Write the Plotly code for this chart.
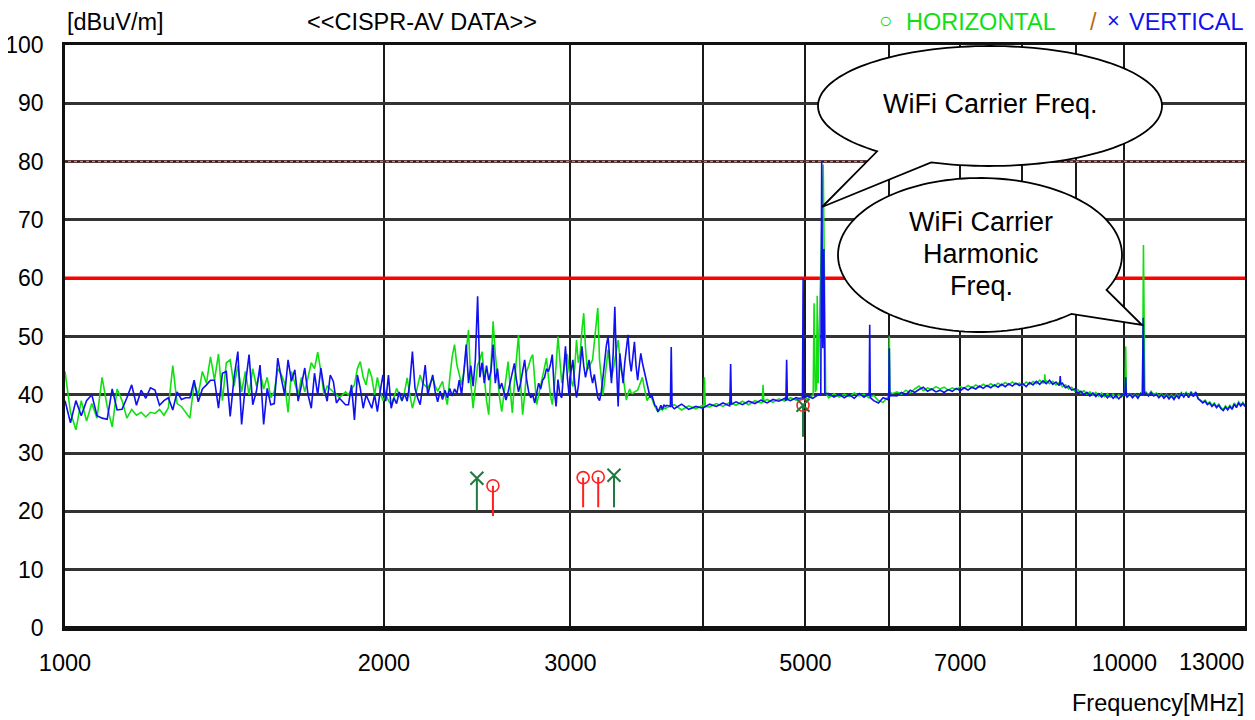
import numpy as np
import plotly.graph_objects as go

# ---------------- data ----------------
# Low band sweep: 1000 MHz upward, 12 MHz step
LO_START_MHZ = 1000
LO_STEP_MHZ = 12
H_LO = [
    44, 37, 34, 39, 35.5, 38.5, 36, 43, 38, 34.5,
    41, 39, 36, 37.5, 36.5, 37, 36.2, 37, 36.8, 37.5,
    36.5, 37.8, 45, 38.5, 38, 37, 36, 42, 40, 44,
    42, 46.5, 42.5, 47, 39, 45.5, 46, 41.5, 45, 40.5,
    44, 40, 44.5, 41.5, 44, 41, 43, 39.5, 40.5, 44.5,
    43.5, 42, 37, 44, 42, 40, 43, 40.5, 43, 45.5,
    44.5, 47.3, 44, 40, 41.5, 41, 40.5, 40, 39.5, 40,
    40.5, 40, 41, 41.7, 44.5, 45.7, 43, 41.7, 44.5, 43,
    40, 43, 40.5, 39, 40, 39, 38.3, 39.5, 41.1, 40,
    38.9, 40.5, 42.9, 40, 37.7, 39.5, 41.5, 43.4, 42, 41.5,
    41.1, 42, 42.9, 41.5, 40.6, 41.5, 42.3, 40, 38.3, 43,
    46.5, 48.6, 45.1, 43.5, 41.7, 44, 48, 51.1, 42, 37.7,
    41.5, 45.1, 46, 47.4, 43, 39, 36.6, 44, 52.6, 47,
    42.9, 39.5, 37.1, 40, 43.5, 45.7, 41, 36.9, 42, 47,
    50.3, 42, 36.6, 40, 44, 45, 46.2, 46.9, 42, 38.3,
    40, 41.5, 42.9, 44.5, 46.3, 43, 40, 38.3, 41, 45,
    50, 46, 42, 44, 46, 47, 44, 42.5, 41.4, 44.5,
    49.4, 45.5, 47, 51, 54, 48, 44.3, 44.8, 45.5, 46,
    49, 52.5, 54.9, 46, 43.1, 40, 42.5, 45, 47.7, 45,
    43, 44.2, 46, 48, 49.4, 46.5, 44, 43.1, 41, 39.1,
    40.2, 41, 40.3, 40.2, 40.5, 40.7, 40.8, 41.5, 42.3, 43,
    41.5, 40, 39, 39.5, 39.8, 39.4, 38.6, 38, 37.6, 37.1,
    37.3, 37.6, 37.4, 37.8, 37.6,
]
V_LO = [
    39, 35.2, 39, 36.4, 39, 40, 36.4, 36, 35.8, 41,
    37.4, 37.5, 39.5, 41.7, 38.2, 40.8, 39.4, 41.2, 40.8, 38.2,
    39, 39.5, 37.4, 40.5, 39.2, 39.5, 39.5, 42.5, 38.8, 41,
    41.7, 42.5, 42.5, 37.7, 43.7, 44, 36.3, 42.9, 47.4, 34.9,
    41.7, 46.9, 38.3, 40.6, 45.1, 34.9, 41.1, 38.3, 38.5, 46.3,
    42.9, 40, 46, 42.3, 44.3, 38.9, 41.7, 44.6, 40, 37.7,
    43.7, 40, 44.6, 41.1, 38.9, 43.4, 42.3, 38.6, 39.4, 38.9,
    38.3, 38.3, 41.7, 35.7, 43.4, 41.1, 37.7, 40, 38.9, 37.7,
    40, 37.1, 40.6, 43.4, 38.9, 43.4, 37.7, 39.5, 38.5, 40.5,
    39, 40.2, 38.9, 42, 47.4, 41.1, 39.5, 38.3, 41.5, 45.1,
    40, 41.5, 43.4, 40.5, 38.8, 40.6, 39.2, 40.8, 39.5, 41.1,
    39.8, 41, 40.2, 42.5, 40, 44, 48.6, 42, 45, 41.5,
    46, 56.9, 43, 45.5, 42, 45, 42.5, 44, 48.6, 42,
    44.5, 41, 42, 40.5, 39.1, 40.5, 42, 43.5, 45.4, 42.5,
    40.5, 42, 44, 46, 42.5, 40.5, 39.5, 40, 38.6, 40.5,
    42, 41, 42.5, 43, 44.5, 44, 45.1, 46.9, 41, 38,
    42.6, 40, 39.5, 44, 48.3, 43, 39.8, 44, 46, 42,
    39.5, 41.5, 45, 48.3, 45, 43, 44.5, 46, 43.5, 42,
    43.5, 41.5, 39.5, 39, 40.5, 43, 46, 48.5, 50, 46,
    42, 47, 55.1, 45, 38, 47.1, 44, 42, 45.5, 48.5,
    50.3, 46, 44, 46.5, 49.1, 45, 42.5, 45, 47.1, 45.5,
    44.3, 43, 41.5, 40.5, 39.5, 40, 38.8, 38.2, 38, 37.1,
    37.6, 38.2, 37.5, 38.3, 38,
]

# High band sweep: 3700 MHz upward, 60 MHz step
HI_START_MHZ = 3700
HI_STEP_MHZ = 60
H_HI = [
    37.8, 38.3, 37.4, 38.1, 37.6, 38.2, 37.9, 38.5, 38.0, 38.7,
    38.2, 38.9, 38.3, 39.0, 38.6, 39.2, 38.7, 39.3, 38.9, 39.5,
    39.1, 39.6, 39.3, 39.9, 39.4, 40.0, 39.5, 40.2, 39.6, 40.1,
    39.7, 40.3, 39.8, 40.1, 39.5, 39.9, 39.0, 38.7, 39.6, 40.2,
    40.5, 40.1, 40.8, 40.3, 41.0, 41.5, 40.7, 41.2, 40.9, 41.4,
    41.0, 41.3, 40.8, 41.2, 40.9, 41.4, 41.1, 41.6, 41.2, 41.7,
    41.3, 41.8, 41.4, 41.9, 41.5, 42.0, 41.6, 42.1, 41.7, 42.2,
    41.8, 42.0, 41.6, 42.2, 41.8, 42.3, 41.9, 42.5, 42.0, 42.4,
    41.9, 42.3, 41.7, 42.1, 41.4, 41.7, 41.0, 41.3, 40.6, 40.9,
    40.3, 40.7, 40.1, 40.5, 39.9, 40.4, 39.8, 40.3, 39.7, 40.2,
    39.6, 40.1, 39.5, 40.0, 39.6, 40.3, 39.8, 40.2, 39.7, 40.1,
    39.6, 40.3, 39.9, 40.5, 40.0, 40.6, 40.0, 40.3, 39.8, 40.2,
    39.6, 40.1, 39.5, 40.0, 39.4, 40.1, 39.6, 40.4, 39.8, 40.5,
    39.7, 40.6, 39.9, 40.3, 39.4, 39.1, 38.8, 39.1, 38.5, 38.8,
    38.2, 38.6, 38.0, 38.4, 37.8, 37.5, 38.1, 37.6, 38.2, 37.7,
    38.6, 38.0, 38.8, 38.3, 38.7, 38.2,
]
V_HI = [
    38.2, 37.6, 38.4, 37.5, 38.0, 37.7, 38.4, 38.0, 38.6, 38.1,
    38.8, 38.3, 38.9, 38.5, 39.1, 38.6, 39.2, 38.9, 39.4, 39.0,
    39.5, 39.2, 39.8, 39.4, 40.0, 39.7, 40.2, 39.6, 40.1, 39.5,
    40.0, 39.4, 40.2, 39.6, 40.3, 39.0, 38.6, 39.5, 39.2, 39.9,
    39.8, 40.4, 40.0, 40.8, 40.4, 40.9, 41.3, 40.6, 41.0, 40.5,
    40.8, 40.4, 40.9, 40.6, 41.1, 40.7, 41.2, 40.8, 41.3, 41.0,
    41.5, 41.1, 41.6, 41.2, 41.7, 41.3, 41.8, 41.4, 41.9, 41.5,
    42.0, 41.6, 41.9, 41.4, 42.1, 41.7, 42.3, 41.8, 42.4, 41.9,
    42.5, 41.8, 42.2, 41.6, 42.0, 41.2, 41.5, 40.8, 41.0, 40.3,
    40.6, 40.0, 40.4, 39.8, 40.3, 39.7, 40.2, 39.6, 40.1, 39.5,
    40.0, 39.4, 39.9, 39.3, 39.8, 40.2, 39.6, 40.1, 39.5, 40.0,
    39.4, 40.2, 39.6, 40.3, 39.8, 40.4, 39.8, 40.1, 39.5, 40.0,
    39.4, 39.9, 39.3, 39.8, 39.2, 39.9, 39.4, 40.2, 39.6, 40.3,
    39.5, 40.4, 39.7, 40.5, 39.3, 39.0, 38.6, 38.9, 38.3, 38.6,
    38.0, 38.4, 37.8, 38.2, 37.6, 37.3, 37.9, 37.4, 38.0, 37.5,
    38.4, 37.8, 38.6, 38.1, 38.5, 38.0,
]

# Narrow spurious peaks (frequency groups and their levels)
H_SPIKE_MHZ = [
    [4008, 4015, 4022],
    [4552, 4560, 4568],
    [5085, 5095, 5108, 5122, 5130, 5140, 5197, 5225],
    [5993, 6000, 6007],
    [8405, 8414, 8424],
    [10015, 10030, 10045],
    [10405, 10425, 10440, 10455],
]
H_SPIKE_DB = [
    [37.8, 43.0, 38.0],
    [38.7, 41.7, 38.9],
    [39.8, 55.7, 40.5, 41.0, 57.0, 42.0, 79.5, 40.3],
    [39.8, 50.0, 40.5],
    [42.1, 43.5, 42.0],
    [40.0, 48.3, 39.9],
    [40.0, 65.7, 57.0, 40.3],
]
V_SPIKE_MHZ = [
    [3728, 3735, 3742],
    [4243, 4250, 4257],
    [4792, 4800, 4808],
    [4968, 4975, 4982],
    [5170, 5180, 5192, 5205, 5215],
    [5743, 5750, 5757],
    [5993, 6000, 6007],
    [8690, 8700, 8710],
    [10015, 10030, 10045],
    [10400, 10420, 10440],
]
V_SPIKE_DB = [
    [38.0, 48.2, 38.0],
    [38.6, 45.3, 38.4],
    [39.0, 46.0, 39.2],
    [39.3, 60.0, 39.4],
    [40.0, 80.0, 48.0, 65.0, 40.2],
    [39.8, 52.0, 39.5],
    [39.5, 48.0, 39.8],
    [41.9, 43.2, 41.8],
    [40.0, 43.0, 39.8],
    [40.0, 53.2, 40.2],
]

LIMIT_DB = 60
PEAK_LIMIT_DB = 80

# Final measurement markers
O_MHZ = [2535, 3084, 3187, 4974]
O_DB = [24.4, 25.8, 25.9, 38.2]
O_STEM_DB = [19.2, 20.7, 20.7, 38.2]
X_MHZ = [2448, 3298, 4974]
X_DB = [25.7, 26.2, 38.2]
X_STEM_DB = [20.2, 20.7, 32.8]

X_TICKS = [1000, 2000, 3000, 5000, 7000, 10000]
X_LAST_TICK = 13000
X_MINOR = [4000, 6000, 8000, 9000]
Y_TICKS = list(range(0, 101, 10))
F_MIN, F_MAX = 1000, 13000

# ---------------- build series ----------------
def build(lo, hi, sp_f, sp_db):
    f = list(LO_START_MHZ + LO_STEP_MHZ * np.arange(len(lo))) + \
        list(HI_START_MHZ + HI_STEP_MHZ * np.arange(len(hi)))
    v = list(lo) + list(hi)
    pts = [(float(a), float(b)) for a, b in zip(f, v)
           if not any(min(g) <= a <= max(g) for g in sp_f)]
    for g, d in zip(sp_f, sp_db):
        pts += list(zip(g, d))
    pts.sort(key=lambda p: p[0])
    return [p[0] for p in pts], [p[1] for p in pts]

hf, hv = build(H_LO, H_HI, H_SPIKE_MHZ, H_SPIKE_DB)
vf, vv = build(V_LO, V_HI, V_SPIKE_MHZ, V_SPIKE_DB)

def stems(fs, top, bottom):
    xs, ys = [], []
    for a, t, b in zip(fs, top, bottom):
        xs += [a, a, None]
        ys += [t, b, None]
    return xs, ys

FONT = "Liberation Sans, Arial, sans-serif"
FS = 23.5

fig = go.Figure()

# limit lines
fig.add_trace(go.Scatter(x=[F_MIN, F_MAX], y=[LIMIT_DB, LIMIT_DB], mode="lines",
                         line=dict(color="#ff0000", width=3.5), hoverinfo="skip"))
fig.add_trace(go.Scatter(x=[F_MIN, F_MAX], y=[PEAK_LIMIT_DB, PEAK_LIMIT_DB], mode="lines",
                         line=dict(color="#ff7070", width=1.5), hoverinfo="skip"))
fig.add_trace(go.Scatter(x=[F_MIN, F_MAX], y=[PEAK_LIMIT_DB, PEAK_LIMIT_DB], mode="lines",
                         line=dict(color="#222222", width=1.5, dash="dot"), hoverinfo="skip"))

# spectra
fig.add_trace(go.Scatter(x=hf, y=hv, mode="lines", name="HORIZONTAL",
                         line=dict(color="#10e010", width=1.6)))
fig.add_trace(go.Scatter(x=vf, y=vv, mode="lines", name="VERTICAL",
                         line=dict(color="#1010f0", width=1.6)))

# stems and markers
sx, sy = stems(X_MHZ, X_DB, X_STEM_DB)
fig.add_trace(go.Scatter(x=sx, y=sy, mode="lines", line=dict(color="#1e7a3e", width=2),
                         hoverinfo="skip"))
sx, sy = stems(O_MHZ, O_DB, O_STEM_DB)
fig.add_trace(go.Scatter(x=sx, y=sy, mode="lines", line=dict(color="#ff2020", width=2),
                         hoverinfo="skip"))
fig.add_trace(go.Scatter(x=O_MHZ, y=O_DB, mode="markers",
                         marker=dict(symbol="circle-open", size=12, color="#ff2020",
                                     line=dict(width=1.6))))
fig.add_trace(go.Scatter(x=X_MHZ, y=X_DB, mode="markers",
                         marker=dict(symbol="x-thin-open", size=13, color="#1e7a3e",
                                     line=dict(width=2, color="#1e7a3e"))))

# ---------------- layout ----------------
# page body has an 8 px margin, so the figure is placed 8 px in from the corner
OFF = 8
W, H = 1255 - OFF, 720 - OFF
PLOT_X0, PLOT_X1, PLOT_Y0, PLOT_Y1 = 65, 1245, 45, 628   # screen pixels
L, R = PLOT_X0 - OFF, W - (PLOT_X1 - OFF)
T, B = PLOT_Y0 - OFF, H - (PLOT_Y1 - OFF)
PW, PH = PLOT_X1 - PLOT_X0, PLOT_Y1 - PLOT_Y0

def px(x):
    return (x - PLOT_X0) / PW

def py(y):
    return (PLOT_Y1 - y) / PH

def bubble(cx, cy, rx, ry, t0, t1, tip):
    ts = np.radians(np.linspace(t0, t1, 140))
    pts = [(cx + rx * np.cos(t), cy + ry * np.sin(t)) for t in ts]
    pts.append(tip)
    return "M " + " L ".join(f"{px(a):.5f},{py(b):.5f}" for a, b in pts) + " Z"

shapes = [
    dict(type="line", xref="paper", yref="y", x0=0, x1=1, y0=0, y1=0,
         line=dict(color="#111111", width=4), layer="above"),
    dict(type="path", xref="paper", yref="paper",
         path=bubble(990, 106, 172, 60, 131, 470, (822, 207)),
         fillcolor="white", line=dict(color="black", width=1.8), layer="above"),
    dict(type="path", xref="paper", yref="paper",
         path=bubble(980, 255, 142, 77, 50, 387, (1142, 325)),
         fillcolor="white", line=dict(color="black", width=1.8), layer="above"),
]

def txt(text, x, y, anchor="center", size=FS, color="black", family=FONT):
    return dict(text=text, x=px(x), y=py(y), xref="paper", yref="paper",
                xanchor=anchor, yanchor="middle", showarrow=False,
                font=dict(family=family, size=size, color=color))

annotations = [
    txt("[dBuV/m]", 65, 22, "left"),
    txt("&lt;&lt;CISPR-AV DATA&gt;&gt;", 305, 22, "left"),
    txt("○", 885, 20, "center", size=22, color="#10e010"),
    txt("HORIZONTAL", 904, 22, "left", color="#10e010"),
    txt("/", 1093, 22, "center", color="#b86a10"),
    txt("×", 1113, 21, "center", size=22, color="#1010f0"),
    txt("VERTICAL", 1246, 22, "right", color="#1010f0"),
    txt("Frequency[MHz]", 1246, 703, "right"),
    txt(str(X_LAST_TICK), 1211, 662, "center"),
    txt("WiFi Carrier Freq.", 990, 104, "center", size=27),
    txt("WiFi Carrier", 981, 222, "center", size=27),
    txt("Harmonic", 981, 254, "center", size=27),
    txt("Freq.", 981, 286, "center", size=27),
]

fig.update_layout(
    width=W, height=H,
    margin=dict(l=L, r=R, t=T, b=B, pad=0),
    paper_bgcolor="white", plot_bgcolor="white",
    showlegend=False,
    shapes=shapes, annotations=annotations,
    xaxis=dict(
        type="log", range=[np.log10(F_MIN), np.log10(F_MAX)], automargin=False,
        tickmode="array", tickvals=X_TICKS, ticktext=[str(t) for t in X_TICKS],
        showgrid=True, gridcolor="#1a1a1a", gridwidth=1.6,
        minor=dict(tickmode="array", tickvals=X_MINOR, showgrid=True,
                   gridcolor="#1a1a1a", gridwidth=1.6, ticks=""),
        showline=True, linecolor="#111111", linewidth=2.5, mirror=True,
        ticks="", ticklabelstandoff=12, zeroline=False,
        tickfont=dict(family=FONT, size=FS, color="black"),
    ),
    yaxis=dict(
        range=[0, 100], tickmode="array", tickvals=Y_TICKS, automargin=False,
        showgrid=True, gridcolor="#333333", gridwidth=2.5,
        showline=True, linecolor="#111111", linewidth=2.5, mirror=True,
        ticks="", ticklabelstandoff=14, zeroline=False,
        tickfont=dict(family=FONT, size=23, color="black"),
    ),
)

fig.write_html("out.html")
